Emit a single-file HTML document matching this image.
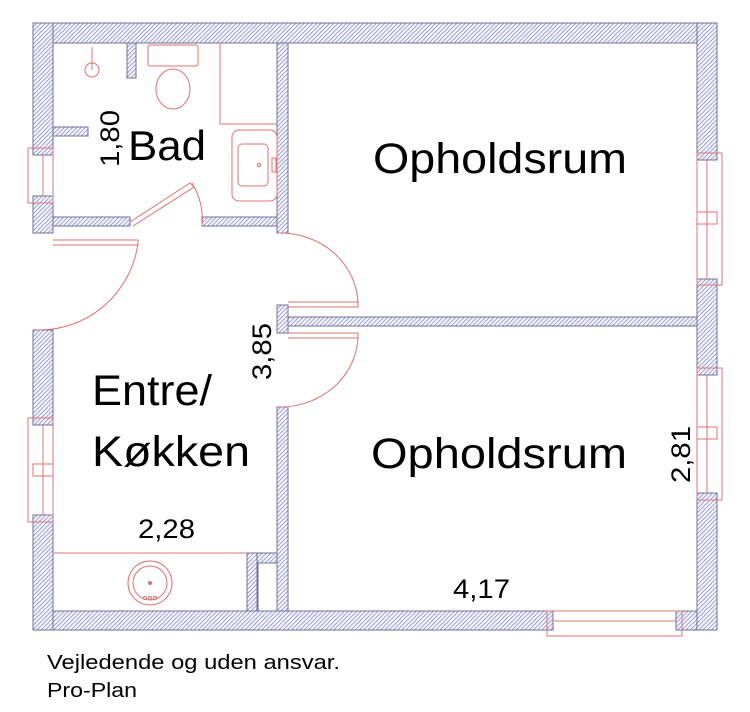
<!DOCTYPE html>
<html><head><meta charset="utf-8"><style>
html,body{margin:0;padding:0;background:#fff;}
svg{display:block;}
text{font-family:"Liberation Sans",Arial,sans-serif;fill:#000;}
</style></head><body>
<svg width="750" height="712" viewBox="0 0 750 712" xmlns="http://www.w3.org/2000/svg">
<defs>
<pattern id="h" patternUnits="userSpaceOnUse" width="3" height="3" patternTransform="rotate(45)">
<rect width="3" height="3" fill="#fff"/>
<rect width="1.1" height="3" fill="#9a9ee6"/>
</pattern>
</defs>
<g fill="url(#h)" stroke="#707090" stroke-width="1">
<rect x="33" y="23" width="684" height="20"/>
<rect x="33" y="611" width="520" height="19"/>
<rect x="676" y="611" width="41" height="19"/>
<rect x="33" y="23" width="20" height="132"/>
<rect x="33" y="196" width="20" height="37"/>
<rect x="33" y="330" width="20" height="95"/>
<rect x="33" y="515" width="20" height="115"/>
<rect x="697" y="23" width="20" height="137"/>
<rect x="697" y="279" width="20" height="96"/>
<rect x="697" y="493" width="20" height="137"/>
<rect x="277" y="43" width="11" height="190"/>
<rect x="53" y="217" width="77" height="9"/>
<rect x="202" y="217" width="75" height="9"/>
<rect x="53" y="127" width="35" height="9"/>
<rect x="127" y="43" width="9" height="35"/>
<rect x="277" y="305" width="11" height="28"/>
<rect x="288" y="317" width="409" height="9"/>
<rect x="277" y="407" width="11" height="204"/>
<rect x="247" y="553" width="30" height="10"/>
<rect x="247" y="553" width="10" height="58"/>
</g>
<g fill="none" stroke="#e07070" stroke-width="1">
<rect x="28" y="148" width="25" height="55"/><line x1="43" y1="155" x2="43" y2="196"/>
<rect x="28" y="418" width="25" height="104"/><line x1="43" y1="425" x2="43" y2="515"/><rect x="33" y="464" width="20" height="12"/>
<rect x="697" y="153" width="25" height="132"/><line x1="707" y1="160" x2="707" y2="279"/><rect x="697" y="212" width="20" height="12"/>
<rect x="697" y="368" width="25" height="132"/><line x1="707" y1="375" x2="707" y2="493"/><rect x="697" y="427" width="20" height="12"/>
<rect x="547" y="611" width="135" height="25"/><line x1="553" y1="621" x2="676" y2="621"/>
<path d="M53 240 H138 V245 H53"/><path d="M138 243 A100 100 0 0 1 38 330"/>
<path d="M130 222 L190 183 L194 187 L133 226"/><path d="M192 183 A70 70 0 0 1 202 226"/>
<path d="M288 302 H358 V307 H288"/><path d="M278 233 A78 72 0 0 1 358 305"/>
<path d="M288 333 H358 V338 H288"/><path d="M358 335 A78 72 0 0 1 280 407"/>
<circle cx="92" cy="70" r="7"/><line x1="92" y1="47" x2="92" y2="70"/>
<rect x="148" y="45" width="50" height="21" rx="2"/>
<ellipse cx="173" cy="89" rx="17" ry="20"/>
<path d="M220 43 V124 H277"/>
<rect x="232" y="130" width="45" height="71" rx="7"/>
<rect x="238" y="144" width="30" height="42" rx="4"/>
<circle cx="259" cy="165" r="1.5"/>
<rect x="272" y="158" width="4" height="14"/>
<line x1="53" y1="553" x2="247" y2="553"/>
<circle cx="150" cy="583" r="22"/><circle cx="150" cy="583" r="17"/><circle cx="150" cy="583" r="1.5" fill="#e07070"/>
<circle cx="145" cy="598" r="1.5"/><circle cx="150" cy="598" r="1.5"/><circle cx="155" cy="598" r="1.5"/>
</g>
<rect x="258" y="563" width="19" height="48" fill="#fff" stroke="#707090"/>
<text x="128" y="160" font-size="42" textLength="78" lengthAdjust="spacingAndGlyphs">Bad</text>
<text x="373" y="173" font-size="43" textLength="254" lengthAdjust="spacingAndGlyphs">Opholdsrum</text>
<text x="371" y="468" font-size="43" textLength="256" lengthAdjust="spacingAndGlyphs">Opholdsrum</text>
<text x="92" y="405" font-size="43" textLength="120" lengthAdjust="spacingAndGlyphs">Entre/</text>
<text x="92" y="466" font-size="43" textLength="158" lengthAdjust="spacingAndGlyphs">Køkken</text>
<text x="138" y="538" font-size="27" textLength="57" lengthAdjust="spacingAndGlyphs">2,28</text>
<text x="453" y="598" font-size="27" textLength="57" lengthAdjust="spacingAndGlyphs">4,17</text>
<text transform="translate(119,167) rotate(-90)" font-size="27" textLength="57" lengthAdjust="spacingAndGlyphs">1,80</text>
<text transform="translate(271,380) rotate(-90)" font-size="27" textLength="57" lengthAdjust="spacingAndGlyphs">3,85</text>
<text transform="translate(690,483) rotate(-90)" font-size="27" textLength="57" lengthAdjust="spacingAndGlyphs">2,81</text>
<text x="47" y="669" font-size="20" textLength="293" lengthAdjust="spacingAndGlyphs">Vejledende og uden ansvar.</text>
<text x="47" y="697" font-size="20" textLength="90" lengthAdjust="spacingAndGlyphs">Pro-Plan</text>
</svg>
</body></html>
